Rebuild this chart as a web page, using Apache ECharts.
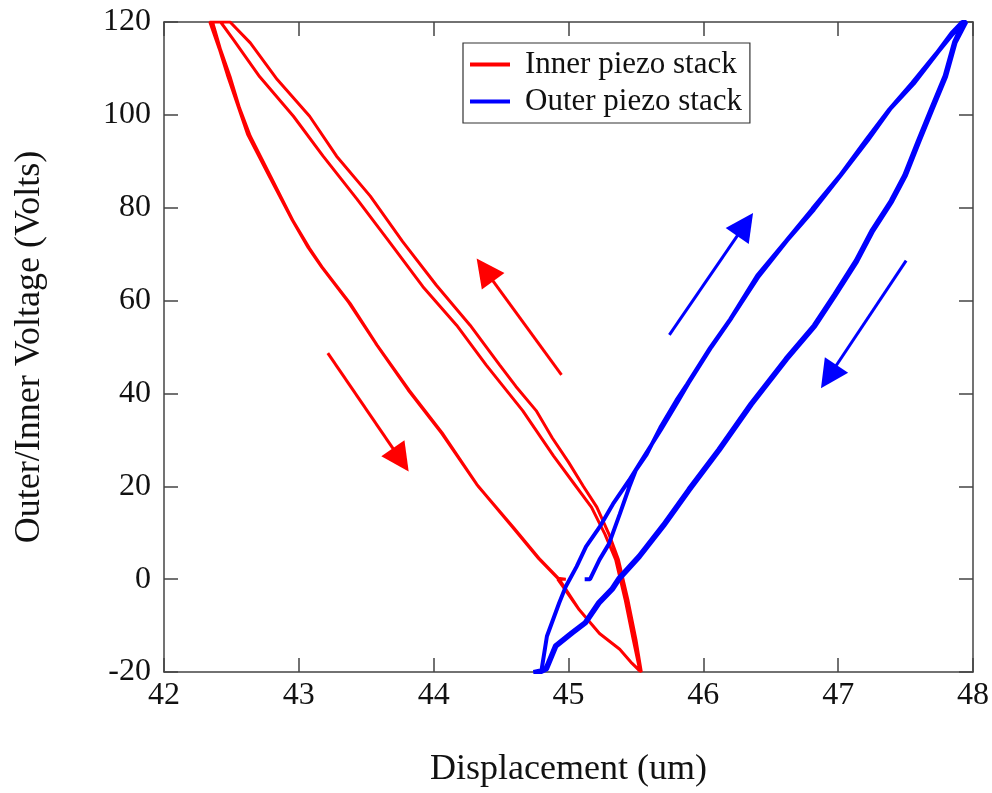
<!DOCTYPE html>
<html>
<head>
<meta charset="utf-8">
<script src="https://cdn.jsdelivr.net/npm/echarts@6/dist/echarts.min.js"></script>
<style>
  html, body { margin: 0; padding: 0; background: #fff; }
  #chart { width: 992px; height: 793px; }
</style>
</head>
<body>
<div id="chart"></div>
<script>
// [displacement (um), voltage (V)]
const innerStub = [[44.98, 0], [44.92, 0]]
const innerDownLow = [[44.92, 0], [45.08, -6.6], [45.23, -11.7], [45.38, -15.1], [45.47, -18.1], [45.53, -19.8]]
const innerDown1 = [
  [42.36, 120], [42.42, 114], [42.49, 108.2], [42.56, 101.5], [42.64, 95.4], [42.79, 86.8], [42.96, 77],
  [43.08, 71.2], [43.18, 66.9], [43.38, 59.4], [43.58, 50.4], [43.82, 40.6], [44.07, 31.2],
  [44.33, 20], [44.59, 11.2], [44.79, 4.2], [44.93, 0], [45.08, -6.6], [45.23, -11.7],
  [45.38, -15.1], [45.47, -18.1], [45.54, -20]
]
const innerDown2 = [
  [42.34, 120], [42.41, 114.2], [42.47, 108.6], [42.55, 101.8], [42.62, 95.8], [42.78, 86.8],
  [42.95, 77.4], [43.07, 71.4], [43.17, 67.2], [43.37, 59.6], [43.57, 50.8], [43.81, 40.8],
  [44.06, 31.4], [44.32, 20.4], [44.58, 11.4], [44.78, 4.4], [44.92, 0.2]
]
const innerUpA = [
  [45.52, -19.5], [45.48, -13], [45.42, -4.4], [45.35, 4.2], [45.27, 9.7], [45.17, 15.5],
  [45.04, 20.6], [44.89, 26.5], [44.66, 36.3], [44.39, 46.1], [44.17, 54.7], [43.92, 63],
  [43.67, 72.7], [43.43, 81.9], [43.18, 91.1], [42.96, 99.7], [42.71, 108.2], [42.52, 116],
  [42.42, 120], [42.36, 120]
]
const innerUpB = [
  [45.54, -20], [45.50, -13], [45.44, -4.4], [45.37, 4.2], [45.30, 9.7], [45.21, 15.5],
  [45.11, 20], [45.00, 25.2], [44.88, 30.4], [44.76, 36.3], [44.61, 41.5], [44.49, 46.1],
  [44.27, 54.7], [44.02, 63.3], [43.77, 72.7], [43.53, 82.5], [43.28, 91.1], [43.08, 99.7],
  [42.84, 107.6], [42.64, 115.5], [42.49, 120], [42.34, 120]
]

const outerRamp = [[45.12, 0], [45.16, 0], [45.23, 4.2], [45.30, 7.6], [45.38, 14.0], [45.45, 19.8], [45.50, 23.5]]
const outerUp1 = [
  [45.50, 23.5], [45.58, 26.9], [45.68, 32.6], [45.80, 38.5], [45.88, 42], [46.05, 49.8],
  [46.20, 56], [46.40, 65.4], [46.61, 72.7], [46.81, 79.8], [47.01, 86.8], [47.21, 94.7],
  [47.38, 101.2], [47.55, 106.9], [47.73, 113.3], [47.84, 117.6], [47.92, 120]
]
const outerUp2 = [
  [44.74, -20], [44.80, -19.6], [44.84, -12.3], [44.93, -5.2], [44.98, -1.6], [45.06, 2.7],
  [45.13, 7.0], [45.23, 11.2], [45.33, 16.2], [45.45, 21.3], [45.56, 26.4], [45.69, 32.4],
  [45.81, 38.2], [45.89, 42.2], [46.06, 50], [46.21, 56.3], [46.41, 65.2], [46.62, 72.9],
  [46.82, 79.6], [47.02, 87], [47.22, 94.5], [47.39, 101.4], [47.56, 106.7], [47.74, 113.5],
  [47.85, 117.4], [47.93, 120]
]
const outerDown1 = [
  [47.95, 120], [47.87, 115.5], [47.80, 108.2], [47.70, 101.2], [47.60, 94.1], [47.50, 86.8],
  [47.40, 81.3], [47.26, 75], [47.14, 68.4], [46.98, 61.1], [46.83, 54.5], [46.62, 47.3],
  [46.36, 37.6], [46.12, 27.7], [45.90, 19.2], [45.71, 11.5], [45.53, 4.8], [45.38, 0],
  [45.33, -2.2], [45.23, -5.2], [45.13, -9.5], [45.03, -11.7], [44.91, -14.5], [44.84, -19.4],
  [44.80, -20]
]
const outerDown2 = [
  [47.94, 120], [47.86, 115.7], [47.79, 108.4], [47.69, 101.4], [47.59, 94.3], [47.49, 87],
  [47.39, 81.5], [47.25, 75.2], [47.13, 68.6], [46.97, 61.3], [46.82, 54.7], [46.61, 47.5],
  [46.35, 37.8], [46.11, 27.9], [45.89, 19.4], [45.70, 11.7], [45.52, 5], [45.37, 0.2],
  [45.32, -2], [45.22, -5], [45.12, -9.3], [45.02, -11.5], [44.90, -14.3], [44.83, -19.2],
  [44.76, -20]
]

// arrow annotations: [tail, head]
const redArrows = [[[43.215, 48.7], [43.756, 25.7]], [[44.948, 44.0], [44.38, 66.6]]]
const blueArrows = [[[45.748, 52.6], [46.31, 76.4]], [[47.504, 68.6], [46.93, 43.6]]]

const xTicks = { min: 42, max: 48, interval: 1 }
const yTicks = { min: -20, max: 120, interval: 20 }

const innerPath = [].concat(innerStub, innerDownLow, innerUpA, innerDown1, innerUpB, innerDown2, innerStub)
const outerPath = [].concat(outerRamp, outerUp1, outerDown1, outerUp2, outerDown2)

const font = 'Liberation Serif'
const axisColor = '#444'

const chart = echarts.init(document.getElementById('chart'))

function axisBase(extra) {
  return Object.assign({
    type: 'value',
    axisLine: { show: true, onZero: false, lineStyle: { color: axisColor, width: 1.5 } },
    axisTick: { show: true, inside: true, length: 14, lineStyle: { color: axisColor, width: 1.5 } },
    splitLine: { show: false },
  }, extra)
}

function arrowSeries(coords, color) {
  return {
    type: 'lines',
    coordinateSystem: 'cartesian2d',
    silent: true,
    symbol: ['none', 'triangle'],
    symbolSize: [19, 28],
    lineStyle: { color: color, width: 3, opacity: 1 },
    data: coords.map(c => ({ coords: c })),
  }
}

chart.setOption({
  animation: false,
  backgroundColor: '#fff',
  grid: { left: 164, right: 18, top: 22, bottom: 117 },
  legend: {
    data: ['Inner piezo stack', 'Outer piezo stack'],
    orient: 'vertical',
    left: 463,
    top: 43,
    icon: 'rect',
    itemWidth: 40,
    itemHeight: 4,
    itemGap: 6,
    padding: [6, 8, 6, 7],
    borderColor: '#333',
    borderWidth: 1.2,
    textStyle: { fontFamily: font, fontSize: 31, color: '#111', padding: [0, 0, 0, 10] },
  },
  xAxis: [
    axisBase(Object.assign({
      position: 'bottom',
      name: 'Displacement (um)',
      nameLocation: 'middle',
      nameGap: 80,
      nameTextStyle: { fontFamily: font, fontSize: 36, color: '#111' },
      axisLabel: { fontFamily: font, fontSize: 32, color: '#111', margin: 8 },
    }, xTicks)),
    axisBase(Object.assign({ position: 'top', axisLabel: { show: false } }, xTicks)),
  ],
  yAxis: [
    axisBase(Object.assign({
      position: 'left',
      name: 'Outer/Inner Voltage (Volts)',
      nameLocation: 'middle',
      nameGap: 116,
      nameTextStyle: { fontFamily: font, fontSize: 36, color: '#111' },
      axisLabel: { fontFamily: font, fontSize: 32, color: '#111', margin: 13 },
    }, yTicks)),
    axisBase(Object.assign({ position: 'right', axisLabel: { show: false } }, yTicks)),
  ],
  series: [
    {
      name: 'Inner piezo stack',
      type: 'line',
      data: innerPath,
      showSymbol: false,
      color: '#ff0000',
      lineStyle: { width: 3 },
    },
    {
      name: 'Outer piezo stack',
      type: 'line',
      data: outerPath,
      showSymbol: false,
      color: '#0000ff',
      lineStyle: { width: 4 },
    },
    arrowSeries(redArrows, '#ff0000'),
    arrowSeries(blueArrows, '#0000ff'),
  ],
})
</script>
</body>
</html>
